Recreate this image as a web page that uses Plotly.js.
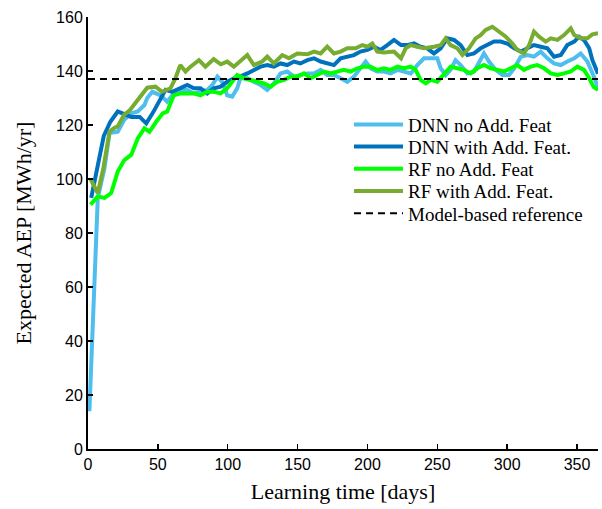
<!DOCTYPE html>
<html>
<head>
<meta charset="utf-8">
<script src="https://cdn.plot.ly/plotly-3.0.1.min.js"></script>
<style>html,body{margin:0;padding:0;background:#fff;}#chart{width:602px;height:509px;}</style>
</head>
<body>
<div id="chart"></div>
<script>
// ---- data ----
const seriesNames = ["DNN no Add. Feat", "DNN with Add. Feat.", "RF no Add. Feat", "RF with Add. Feat.", "Model-based reference"];

const dnnNoDays = [1, 7, 11.8, 15.4, 21.3, 26, 31, 35.6, 40.4, 42.4, 46, 51.9, 56.7, 61.4, 66.2, 71, 75.8, 80.5, 85.3, 89, 92.6, 96, 99.6, 103.2, 106.8, 109, 114, 118.7, 123.5, 128.3, 133, 137.8, 142.6, 147.4, 152, 157, 161.7, 166.5, 171.2, 176, 180.8, 185.6, 190.3, 195, 198.7, 202.3, 207, 211.8, 216.6, 221.4, 226, 231, 235.7, 240.5, 245.3, 250, 252.4, 256, 259.5, 263, 266.7, 271.5, 276.3, 279.8, 283.4, 287, 291.8, 296.6, 301.3, 305, 309.8, 314.5, 319.2, 324, 328.8, 333.5, 338.4, 343, 348, 352.6, 357.4, 362, 365];
const dnnNoVals = [14, 93, 104, 117, 117.5, 122, 124.3, 125, 127.4, 130, 132.3, 131, 128.6, 131.7, 133, 133, 131.7, 132.3, 133, 134.8, 137.9, 136, 131, 130.5, 133.6, 137.3, 137.3, 136, 134.8, 133, 135.4, 139.1, 139.8, 137.9, 138.5, 139.1, 139.1, 140.4, 138.5, 138.5, 137.3, 136, 137.9, 141, 143.5, 141, 139.8, 139.8, 139.1, 140.4, 139.8, 139.1, 142.2, 144.7, 144.7, 144.7, 141, 138.5, 140.4, 144, 142.2, 139.1, 139.8, 143.5, 146.5, 143.5, 140.4, 138.5, 138.5, 141, 145.3, 145.9, 145.3, 147.2, 144.7, 142.8, 142.2, 143.5, 144.7, 146.5, 143.5, 138, 134];

const dnnWithDays = [2.3, 4.7, 8.2, 11.3, 16, 21.3, 26, 31, 37, 41.7, 46.4, 51.9, 55.5, 60.3, 66.2, 71, 75.8, 80.5, 85.3, 90, 94.9, 99.6, 104.4, 109, 114, 118.7, 123.5, 128.3, 133, 137.8, 142.6, 147.4, 152, 157, 161.7, 166.5, 171.2, 176, 180.8, 185.6, 190.3, 195, 200, 204.7, 209.4, 214.2, 219, 224, 228.5, 233.3, 238, 242.8, 247.6, 252.4, 257, 262, 266.7, 271.5, 276.3, 281, 285.8, 290.6, 295.3, 300, 305, 309.8, 314.5, 319.2, 324, 328.8, 333.5, 338.4, 343, 348, 351.4, 355, 358.7, 361, 365];
const dnnWithVals = [93, 99, 106.5, 116, 121.2, 125, 124, 123, 123, 120.6, 124.5, 130, 133, 132.3, 133.6, 134.8, 133.6, 133.6, 131.7, 133.6, 134.2, 136, 137.3, 137.9, 139.1, 140.4, 141.6, 142.2, 141.6, 142.8, 142.2, 143.5, 142.8, 144, 144.7, 143.5, 142.8, 142.2, 144.7, 145.3, 145.9, 147.2, 147.8, 149, 147.8, 149.6, 151.5, 149.6, 149.6, 150.2, 149, 148.4, 146.5, 148.4, 152.1, 151.5, 149.6, 145.9, 146.5, 148.4, 149.6, 150.9, 150.9, 150.2, 148.4, 147.2, 148.4, 149.6, 149, 148.4, 145.3, 145.9, 149.6, 150.9, 152.7, 151.5, 148.4, 144, 139];

const rfNoDays = [1.8, 7, 11.8, 16.6, 21.3, 26, 31, 35.6, 40.4, 44, 48.8, 53.5, 56.7, 61.4, 66.2, 71, 75.8, 80.5, 85.3, 90, 94.9, 99.6, 103.2, 106.8, 111.6, 116.3, 121, 126, 130.6, 135.4, 140.2, 145, 149.8, 154.6, 159.4, 164, 169, 173.7, 178.5, 183, 188, 192.8, 197.5, 202.3, 207, 211.8, 216.6, 221.4, 226, 231, 234.5, 238, 241.7, 245.3, 250, 254.8, 259.5, 264.3, 269, 273.9, 278.6, 283.4, 288.2, 293, 297.7, 302.5, 307.3, 312, 316.8, 321.5, 326.4, 331.2, 336, 340.7, 345.5, 350.2, 355, 358.7, 362, 365];
const rfNoVals = [90.5, 93.5, 93, 94.8, 102.8, 107, 109, 115, 118.8, 117.5, 121.2, 124.3, 125, 131, 131.7, 131.7, 131.7, 131, 132.3, 132.3, 131.7, 133.6, 136, 138.5, 137.3, 136.7, 136, 135.4, 134.2, 136, 136.7, 137.9, 137.9, 139.1, 137.3, 138.5, 139.8, 139.1, 139.8, 140.4, 139.8, 141, 141.6, 141.6, 140.4, 141, 140.4, 141.6, 141, 141.6, 140.4, 136.7, 135.4, 136.7, 136, 139.1, 141.6, 141, 140.4, 139.1, 141, 142.2, 141, 140.4, 139.8, 141, 142.2, 140.4, 141.6, 142.2, 141, 139.1, 138.5, 139.1, 139.8, 141.6, 140.4, 137.3, 134, 133];

const rfWithDays = [1.8, 7, 11, 15.4, 18.5, 21.3, 25.7, 30, 32.8, 36, 40, 42.4, 48.3, 53, 59, 62.6, 66, 69.8, 73.4, 79.4, 84, 90, 95, 99.6, 104.4, 111.6, 114, 118.7, 124.7, 128.3, 133, 139, 143.8, 149.8, 157, 161.7, 166.5, 171.2, 176, 180.8, 185.6, 191.6, 196.3, 200, 203.5, 207, 211.8, 219, 224, 227.3, 231, 235.7, 240.5, 247.6, 252.4, 256, 259.5, 264.3, 268, 272.7, 277.4, 281, 284.6, 289.4, 294.2, 299, 303.7, 307.3, 312, 315.7, 319.2, 322.8, 327.6, 331.2, 336, 340.7, 345.5, 348, 352.6, 357.4, 361, 365];
const rfWithVals = [100, 94.8, 104, 117.5, 118.8, 119.5, 123.7, 125.5, 127.4, 129.5, 132.3, 133.8, 134.2, 132.3, 133.6, 137.3, 142.2, 139.8, 141.6, 144, 141.6, 144.4, 142.5, 143.5, 141.6, 144.7, 145.9, 142.2, 143.5, 145.3, 142.8, 145.9, 144.7, 146.5, 146.2, 147.2, 146.5, 149, 146.5, 147.2, 148.4, 148.4, 149.6, 149, 150.2, 147.2, 146.9, 147.2, 144.7, 148.4, 149.6, 149, 148.4, 149, 149.6, 152.1, 149.6, 148.4, 145.9, 148.4, 152.1, 153.3, 155.2, 156.4, 154.6, 152.7, 150.2, 147.8, 146.5, 149.6, 154.6, 152.7, 150.9, 152.1, 151.5, 153.3, 155.8, 153.3, 152.1, 152.1, 153.6, 154];

const refDays = [0, 365];
const refVals = [137, 137];

const xTicks = [0, 50, 100, 150, 200, 250, 300, 350];
const yTicks = [0, 20, 40, 60, 80, 100, 120, 140, 160];

// ---- styles ----
const colors = ["#4DBEEE", "#0072BD", "#00FF00", "#77AC30", "#000000"];

const traces = [
  {x: dnnNoDays, y: dnnNoVals},
  {x: dnnWithDays, y: dnnWithVals},
  {x: rfNoDays, y: rfNoVals},
  {x: rfWithDays, y: rfWithVals},
].map((t, i) => ({
  x: t.x, y: t.y, type: "scatter", mode: "lines", name: seriesNames[i],
  line: {color: colors[i], width: 4, shape: "linear"}
}));
traces.push({
  x: refDays, y: refVals, type: "scatter", mode: "lines", name: seriesNames[4],
  line: {color: colors[4], width: 2, dash: "7px,5px"}
});

const serif = "Liberation Serif, DejaVu Serif, serif";
const sans = "Liberation Sans, Arial, sans-serif";

const layout = {
  width: 602, height: 509,
  margin: {l: 88, r: 4, t: 17, b: 60},
  paper_bgcolor: "#fff", plot_bgcolor: "#fff",
  showlegend: true,
  legend: {
    x: 0.549, y: 0.795, xanchor: "left", yanchor: "top",
    bgcolor: "rgba(255,255,255,0)", borderwidth: 0,
    font: {family: serif, size: 19, color: "#000"},
    tracegroupgap: 0, itemwidth: 30
  },
  xaxis: {
    range: [0, 365], tickvals: xTicks, ticktext: xTicks.map(String),
    ticks: "inside", ticklen: 5, tickwidth: 1.5, tickcolor: "#000",
    showline: true, linecolor: "#000", linewidth: 2, showgrid: false, zeroline: false,
    tickfont: {family: sans, size: 16, color: "#000"},
    title: {text: "Learning time [days]", font: {family: serif, size: 22, color: "#000"}, standoff: 11}
  },
  yaxis: {
    range: [0, 160], tickvals: yTicks, ticktext: yTicks.map(String),
    ticks: "inside", ticklen: 5, tickwidth: 1.5, tickcolor: "#000",
    showline: true, linecolor: "#000", linewidth: 2, showgrid: false, zeroline: false,
    tickfont: {family: sans, size: 16, color: "#000"},
    title: {text: "Expected AEP [MWh/yr]", font: {family: serif, size: 22, color: "#000"}, standoff: 18}
  }
};

const gd = document.getElementById("chart");
Plotly.newPlot(gd, traces, layout, {displayModeBar: false, staticPlot: true}).then(() => {
  // tighten legend row spacing and lengthen legend line samples (MATLAB style)
  gd.querySelectorAll(".legend [clip-path]").forEach(e => e.removeAttribute("clip-path"));
  const items = gd.querySelectorAll(".legend .traces");
  let y0 = null;
  items.forEach((g, i) => {
    const m = /translate\(([-\d.]+)[ ,]+([-\d.]+)\)/.exec(g.getAttribute("transform") || "");
    if (!m) return;
    if (y0 === null) y0 = parseFloat(m[2]);
    g.setAttribute("transform", "translate(" + m[1] + "," + (y0 + i * 22.2) + ")");
  });
  gd.querySelectorAll(".legend .traces .legendlines path, .legend .traces path.js-line").forEach(p => {
    p.setAttribute("d", "M-14,0h49");
  });
});
</script>
</body>
</html>
